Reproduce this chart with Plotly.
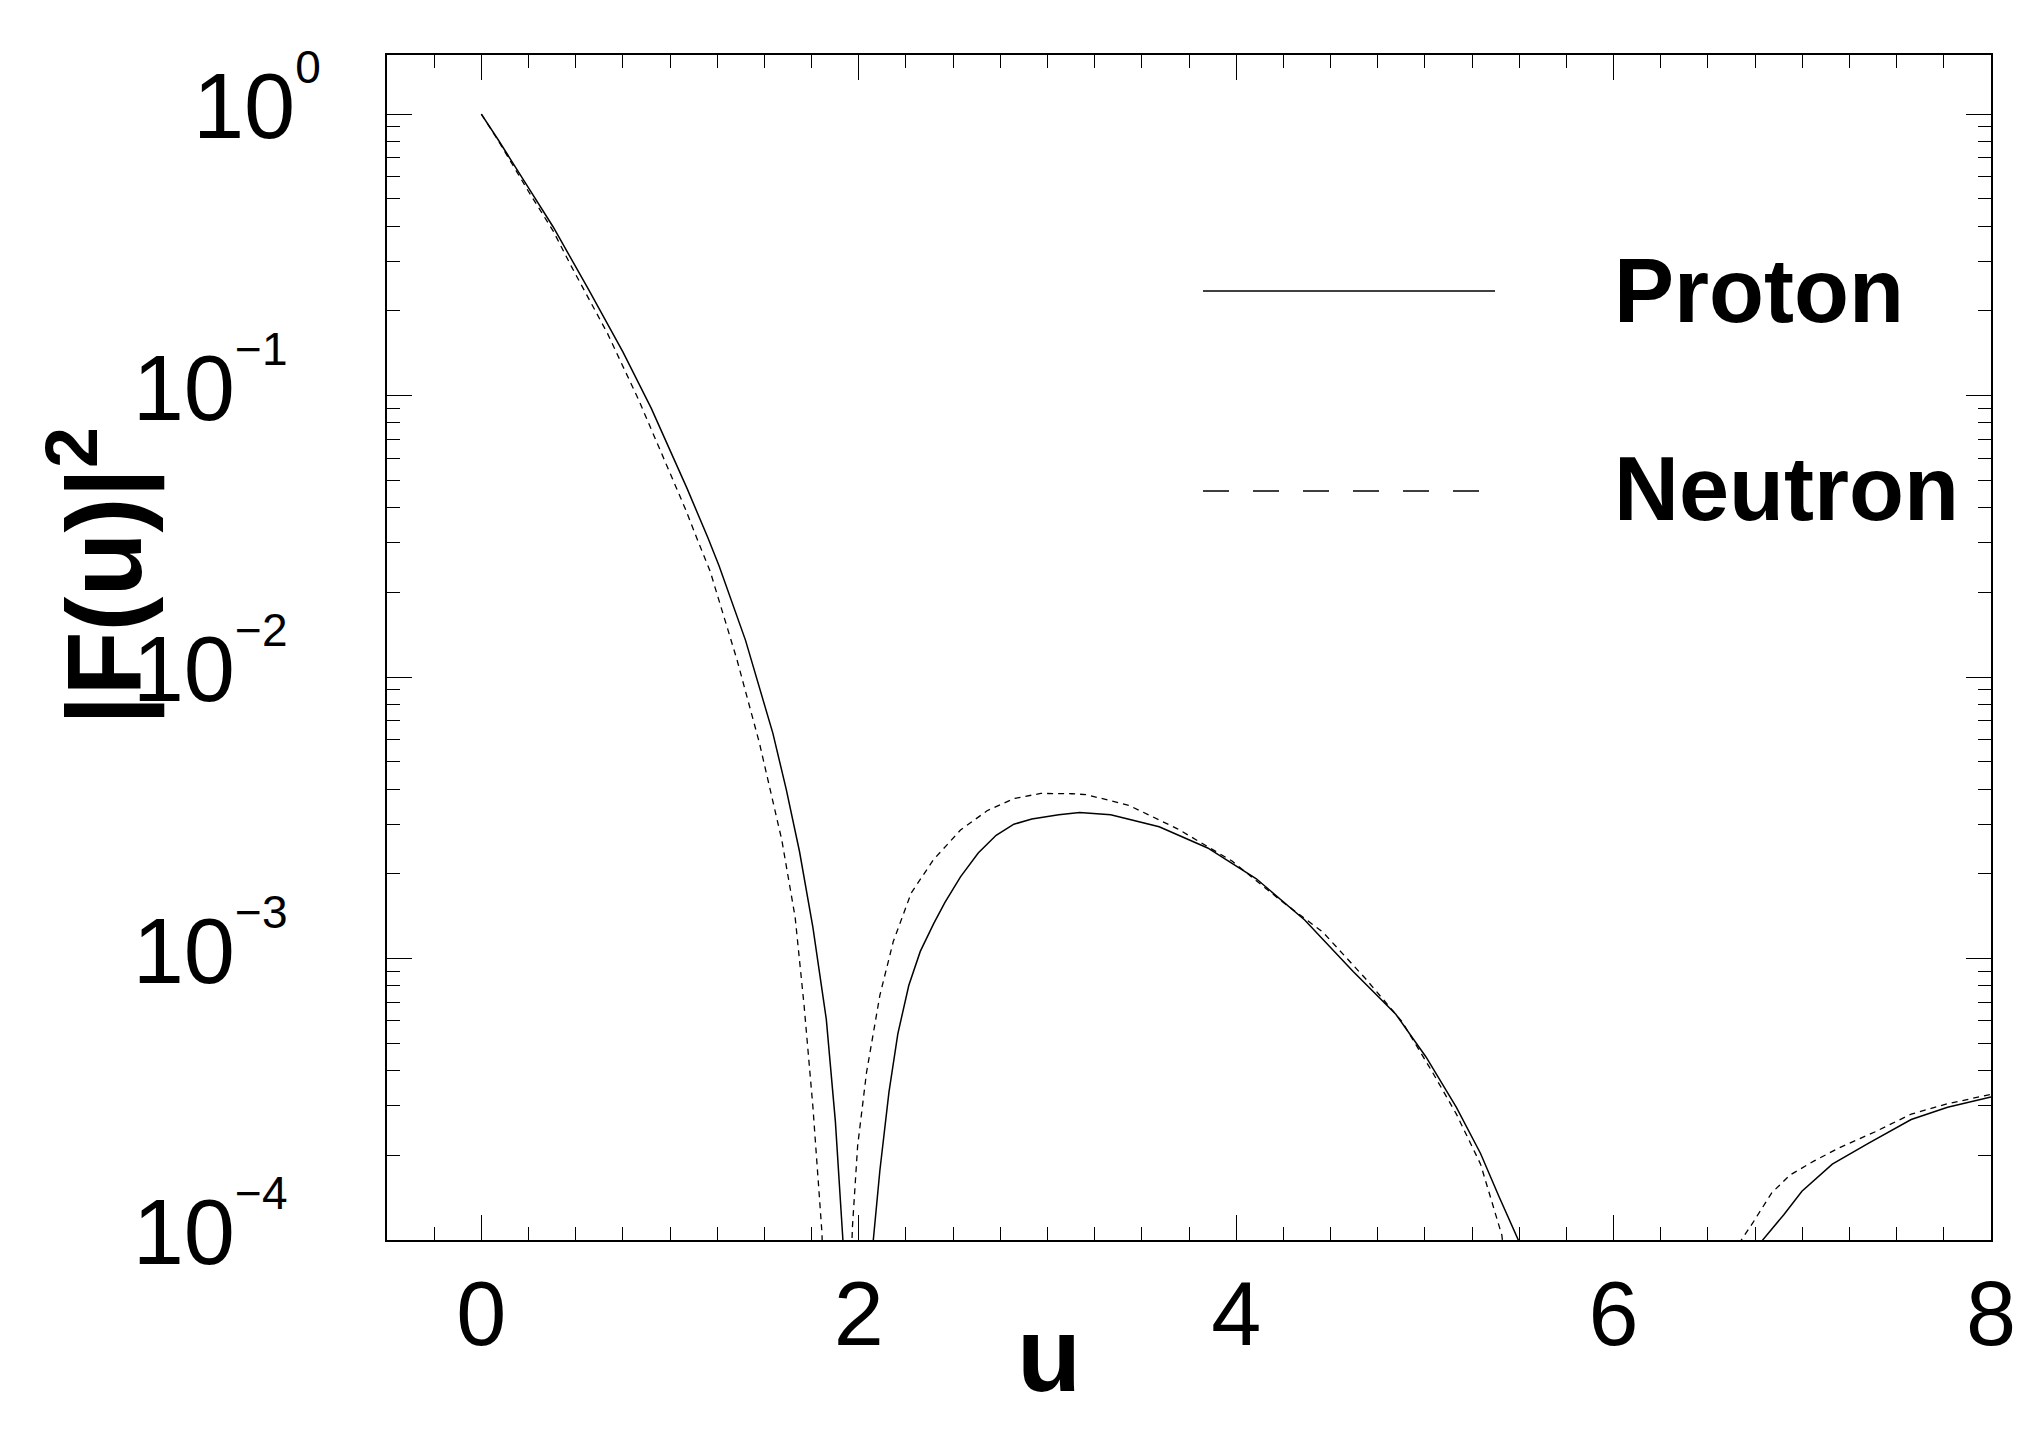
import plotly.graph_objects as go

# ---- data ----
u_proton = [0.00, 0.09, 0.25, 0.38, 0.57, 0.75, 0.90, 1.09, 1.20, 1.26, 1.40, 1.545, 1.616,
            1.686, 1.757, 1.828, 1.876, 1.916, 1.99, 2.077, 2.112, 2.160, 2.207, 2.265, 2.326,
            2.397, 2.456, 2.539, 2.633, 2.728, 2.822, 2.917, 3.06, 3.17, 3.335, 3.592, 3.849,
            4.107, 4.363, 4.620, 4.846, 5.006, 5.167, 5.295, 5.392, 5.495, 6.10, 6.790, 6.902,
            6.998, 7.159, 7.352, 7.577, 7.770, 8.00]
f2_proton = [1.0, 0.809, 0.547, 0.398, 0.237, 0.143, 0.0902, 0.0468, 0.0313, 0.0248, 0.0135,
             0.00631, 0.00398, 0.00240, 0.00129, 0.000608, 0.000264, 0.0001, 1e-6, 0.0001,
             0.000177, 0.000335, 0.000540, 0.000802, 0.00106, 0.00133, 0.00158, 0.00195,
             0.00237, 0.00274, 0.00300, 0.00313, 0.00324, 0.00330, 0.00324, 0.00294, 0.00247,
             0.00192, 0.00137, 0.000899, 0.000634, 0.000447, 0.000296, 0.000203, 0.000143,
             0.0001, 1e-8, 0.0001, 0.000123, 0.000149, 0.000186, 0.000221, 0.000268, 0.000296,
             0.000322]

u_neutron = [0.00, 0.09, 0.25, 0.38, 0.479, 0.669, 0.834, 1.023, 1.083, 1.142, 1.213, 1.355,
             1.473, 1.592, 1.663, 1.710, 1.757, 1.805, 1.88, 1.966, 1.994, 2.041, 2.112, 2.183,
             2.278, 2.397, 2.539, 2.680, 2.822, 2.965, 3.13, 3.207, 3.432, 3.689, 3.978, 4.235,
             4.460, 4.685, 4.878, 5.038, 5.167, 5.295, 5.408, 6.05, 6.677, 6.741, 6.838, 6.934,
             7.063, 7.192, 7.384, 7.577, 7.770, 8.00]
f2_neutron = [1.0, 0.804, 0.531, 0.385, 0.286, 0.166, 0.0964, 0.0488, 0.0393, 0.0311, 0.0237,
              0.0115, 0.00585, 0.00264, 0.00140, 0.000684, 0.000297, 0.000106, 1e-6, 0.000110,
              0.000216, 0.000393, 0.000741, 0.00115, 0.00171, 0.00225, 0.00286, 0.00335,
              0.00370, 0.00386, 0.00385, 0.00382, 0.00350, 0.00289, 0.00222, 0.00161, 0.00124,
              0.000849, 0.000598, 0.000397, 0.000280, 0.000186, 0.000104, 1e-8, 0.0001,
              0.000116, 0.000147, 0.000170, 0.000191, 0.000212, 0.000242, 0.000280, 0.000305,
              0.000329]

x_tickvals = [0, 2, 4, 6, 8]
x_ticktext = ["0", "2", "4", "6", "8"]
y_tickvals = [1, 0.1, 0.01, 0.001, 0.0001]
y_exponents = ["0", "\u22121", "\u22122", "\u22123", "\u22124"]
series_names = ["Proton", "Neutron"]

FONT = "Liberation Sans, Arial, sans-serif"

# superscript raised higher and drawn smaller, like the reference; the negative
# exponents carry a transparent pad so their labels sit left of the 10^0 label
SUP_OPEN = "<sup style='font-size:100% !important'><span style='font-size:46px'>"
PAD = "<span style='font-size:60px;fill-opacity:0'>0</span>"
y_ticktext = [
    "10" + SUP_OPEN + e + "</span>" + ("" if e == "0" else PAD) + "</sup>"
    for e in y_exponents
]
y_minor = [k * 10.0 ** e for e in range(-4, 0) for k in range(2, 10)]

fig = go.Figure()
fig.add_trace(go.Scatter(x=u_proton, y=f2_proton, mode="lines", name=series_names[0],
                         line=dict(color="black", width=1.5), showlegend=False))
fig.add_trace(go.Scatter(x=u_neutron, y=f2_neutron, mode="lines", name=series_names[1],
                         line=dict(color="black", width=1.3, dash="6px,5px"), showlegend=False))

# page has an 8px body margin; figure fits in the remaining window
OFF = 8
W, H = 2039 - OFF, 1434 - OFF
SX0, SX1, SY0, SY1 = 387, 1991, 55, 1240   # plot area in screen pixels
L, T = SX0 - OFF, SY0 - OFF
R, B = 2039 - SX1, 1434 - SY1


def px(xs):
    return (xs - SX0) / (SX1 - SX0)


def py(ys):
    return (SY1 - ys) / (SY1 - SY0)


fig.update_layout(
    width=W, height=H,
    margin=dict(l=L, r=R, t=T, b=B, pad=0),
    paper_bgcolor="white", plot_bgcolor="white",
    font=dict(family=FONT, color="black"),
    xaxis=dict(
        range=[-0.5, 8], tickmode="array", tickvals=x_tickvals, ticktext=x_ticktext,
        ticks="inside", ticklen=25, tickwidth=1, tickcolor="black",
        showline=True, linecolor="black", linewidth=1.5, mirror="ticks",
        showgrid=False, zeroline=False,
        tickfont=dict(family=FONT, size=90, color="black"),
        ticklabelstandoff=-5,
        minor=dict(tickmode="linear", tick0=0, dtick=0.25, ticks="inside", ticklen=13,
                   tickwidth=1, tickcolor="black", showgrid=False),
    ),
    yaxis=dict(
        type="log", range=[-4, 0.21], tickmode="array", tickvals=y_tickvals, ticktext=y_ticktext,
        ticks="inside", ticklen=25, tickwidth=1, tickcolor="black",
        showline=True, linecolor="black", linewidth=1.5, mirror="ticks",
        showgrid=False, zeroline=False,
        tickfont=dict(family=FONT, size=92, color="black"),
        ticklabelstandoff=46, ticklabelshift=-8,
        minor=dict(tickmode="array", tickvals=y_minor, ticks="inside", ticklen=13,
                   tickwidth=1, tickcolor="black", showgrid=False),
    ),
)

# legend drawn by hand to match the long line samples of the reference
fig.add_shape(type="line", xref="paper", yref="paper", x0=px(1203), x1=px(1495),
              y0=py(291), y1=py(291), line=dict(color="black", width=1.3))
fig.add_shape(type="line", xref="paper", yref="paper", x0=px(1203), x1=px(1480),
              y0=py(491), y1=py(491), line=dict(color="black", width=1.3, dash="26px,24px"))
fig.add_annotation(xref="paper", yref="paper", x=px(1612), y=py(291), xanchor="left",
                   yanchor="middle", showarrow=False, text="<b>Proton</b>",
                   font=dict(family=FONT, size=90, color="black"))
fig.add_annotation(xref="paper", yref="paper", x=px(1612), y=py(489), xanchor="left",
                   yanchor="middle", showarrow=False, text="<b>Neutron</b>",
                   font=dict(family=FONT, size=90, color="black"))

# axis titles
fig.add_annotation(xref="paper", yref="paper", x=px(97), y=py(576), xanchor="center",
                   yanchor="middle", showarrow=False, textangle=-90,
                   text="<b>|F(u)|<sup>2</sup></b>",
                   font=dict(family=FONT, size=105, color="black"))
fig.add_annotation(xref="paper", yref="paper", x=px(1049), y=py(1294), xanchor="center",
                   yanchor="top", showarrow=False, text="<b>u</b>",
                   font=dict(family=FONT, size=105, color="black"))

fig.write_html("out.html")
